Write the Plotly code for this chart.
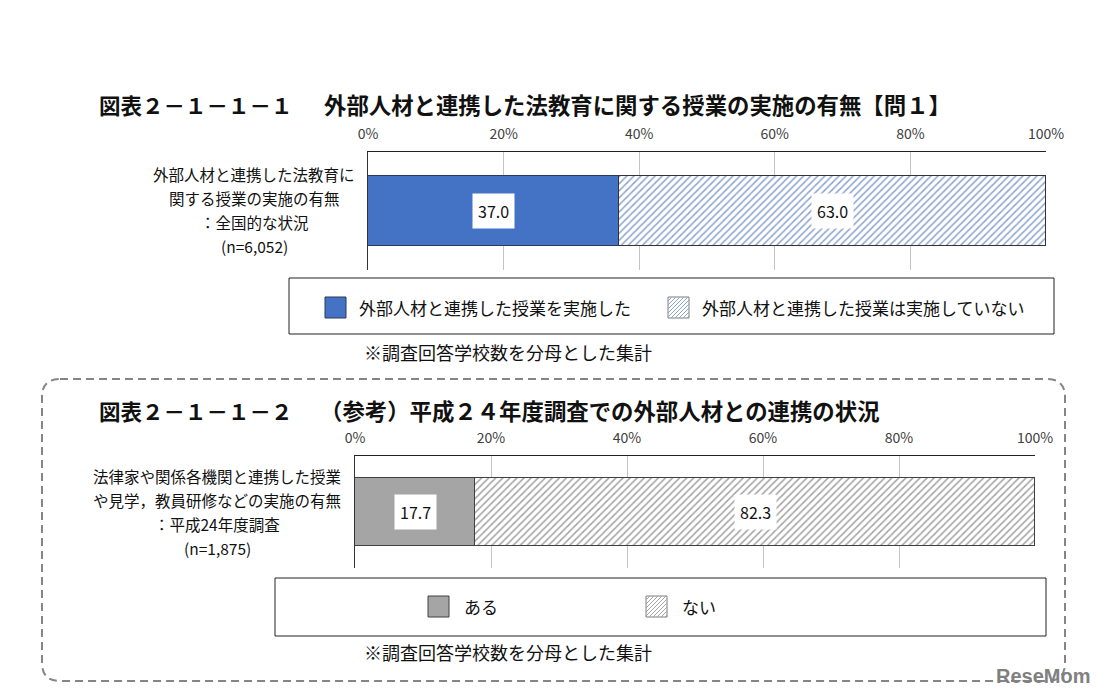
import plotly.graph_objects as go

# page is 1106x700; body has 8px default margin, so the figure fills the rest
PAGE_W, PAGE_H, OFF = 1106, 700, 8
W, H = PAGE_W - 2 * OFF, PAGE_H - 2 * OFF

# ---------------- data ----------------
cat1 = ["全国的な状況"]
done1 = [37.0]
notdone1 = [63.0]
cat2 = ["平成24年度調査"]
yes2 = [17.7]
no2 = [82.3]
tick_vals = [0, 20, 40, 60, 80, 100]
tick_text = ["0%", "20%", "40%", "60%", "80%", "100%"]
label1_lines = ["外部人材と連携した法教育に", "関する授業の実施の有無", "：全国的な状況", "(n=6,052)"]
label2_lines = ["法律家や関係各機関と連携した授業", "や見学，教員研修などの実施の有無", "：平成24年度調査", "(n=1,875)"]
legend1 = ["外部人材と連携した授業を実施した", "外部人材と連携した授業は実施していない"]
legend2 = ["ある", "ない"]
title1a = "図表２－１－１－１"
title1b = "外部人材と連携した法教育に関する授業の実施の有無【問１】"
title2a = "図表２－１－１－２"
title2b = "（参考）平成２４年度調査での外部人材との連携の状況"
note = "※調査回答学校数を分母とした集計"

FONT = "Noto Sans CJK JP"
BLUE = "#4472C4"
GRAY = "#A5A5A5"
HATCH1 = "#8FA5CE"
HATCH2 = "#A3A3A3"


def px(x):
    return (x - OFF) / W


def py(y):
    return 1 - (y - OFF) / H


fig = go.Figure()

# chart 1 bars
fig.add_trace(go.Bar(y=cat1, x=done1, orientation="h", width=0.6, name=legend1[0],
                     marker=dict(color=BLUE, line=dict(color="#2B3A57", width=1)),
                     xaxis="x", yaxis="y", showlegend=False))
fig.add_trace(go.Bar(y=cat1, x=notdone1, orientation="h", width=0.6, name=legend1[1],
                     marker=dict(color="white", line=dict(color="#333333", width=1),
                                 pattern=dict(shape="/", fgcolor=HATCH1, bgcolor="white",
                                              size=5, solidity=0.3)),
                     xaxis="x", yaxis="y", showlegend=False))
# chart 2 bars
fig.add_trace(go.Bar(y=cat2, x=yes2, orientation="h", width=0.6, name=legend2[0],
                     marker=dict(color=GRAY, line=dict(color="#404040", width=1)),
                     xaxis="x2", yaxis="y2", showlegend=False))
fig.add_trace(go.Bar(y=cat2, x=no2, orientation="h", width=0.6, name=legend2[1],
                     marker=dict(color="white", line=dict(color="#404040", width=1),
                                 pattern=dict(shape="/", fgcolor=HATCH2, bgcolor="white",
                                              size=5, solidity=0.3)),
                     xaxis="x2", yaxis="y2", showlegend=False))

annotations = []
shapes = []

# data labels
for cat, vals, xr, yr in [(cat1, [done1[0], notdone1[0]], "x", "y"),
                          (cat2, [yes2[0], no2[0]], "x2", "y2")]:
    base = 0
    for v in vals:
        annotations.append(dict(x=base + v / 2, y=cat[0], xref=xr, yref=yr, text=f"{v:.1f}",
                                showarrow=False, bgcolor="white", borderpad=5,
                                font=dict(family=FONT, size=16, color="#111111")))
        base += v

# category labels (one annotation per line)
for i, line in enumerate(label1_lines):
    annotations.append(dict(x=px(254), y=py(174 + 24 * i), xref="paper", yref="paper",
                            text=line, showarrow=False, xanchor="center", yanchor="middle",
                            font=dict(family=FONT, size=15.5, color="#111111")))
for i, line in enumerate(label2_lines):
    annotations.append(dict(x=px(217), y=py(476 + 24 * i), xref="paper", yref="paper",
                            text=line, showarrow=False, xanchor="center", yanchor="middle",
                            font=dict(family=FONT, size=15.5, color="#111111")))

# titles
for txt, x, y, sz in [(title1a, 97, 104, 21.5), (title1b, 322, 104, 22.4),
                      (title2a, 97, 410, 21.5), (title2b, 318, 410, 22.4)]:
    annotations.append(dict(x=px(x), y=py(y), xref="paper", yref="paper", text=f"<b>{txt}</b>",
                            showarrow=False, xanchor="left", yanchor="middle",
                            font=dict(family=FONT, size=sz, color="#111111")))

# footnotes
for y in [352, 652]:
    annotations.append(dict(x=px(362), y=py(y), xref="paper", yref="paper", text=note,
                            showarrow=False, xanchor="left", yanchor="middle",
                            font=dict(family=FONT, size=18, color="#111111")))

# legend boxes
shapes.append(dict(type="rect", xref="paper", yref="paper", x0=px(289), x1=px(1054),
                   y0=py(278), y1=py(334), line=dict(color="#222222", width=1)))
shapes.append(dict(type="rect", xref="paper", yref="paper", x0=px(275), x1=px(1046),
                   y0=py(578), y1=py(636), line=dict(color="#222222", width=1)))


def swatch(x0, y0, s, fill, line_col, hatch=None):
    shapes.append(dict(type="rect", xref="paper", yref="paper", x0=px(x0), x1=px(x0 + s),
                       y0=py(y0 + s), y1=py(y0), fillcolor=fill,
                       line=dict(color=line_col, width=1)))
    if hatch:
        segs = []
        c = -s + 2
        while c < s:
            u0 = max(0, -c)
            u1 = min(s, s - c)
            xa, ya = x0 + u0, y0 + s - (u0 + c)
            xb, yb = x0 + u1, y0 + s - (u1 + c)
            segs.append(f"M{px(xa):.5f},{py(ya):.5f} L{px(xb):.5f},{py(yb):.5f}")
            c += 4
        shapes.append(dict(type="path", xref="paper", yref="paper", path=" ".join(segs),
                           line=dict(color=hatch, width=1)))


swatch(325, 297, 21, BLUE, "#2B3A57")
swatch(668, 297, 21, "white", "#7F7F7F", hatch=HATCH1)
swatch(428, 596, 21, GRAY, "#404040")
swatch(646, 596, 21, "white", "#7F7F7F", hatch=HATCH2)

for txt, x, y in [(legend1[0], 357, 307), (legend1[1], 700, 307), (legend2[0], 462, 606),
                  (legend2[1], 680, 606)]:
    annotations.append(dict(x=px(x), y=py(y), xref="paper", yref="paper", text=txt,
                            showarrow=False, xanchor="left", yanchor="middle",
                            font=dict(family=FONT, size=17, color="#111111")))

# dashed rounded frame
x0, y0, x1, y1, r = 42, 379, 1065, 681, 18
path = (f"M{px(x0 + r)},{py(y0)} L{px(x1 - r)},{py(y0)} Q{px(x1)},{py(y0)} {px(x1)},{py(y0 + r)} "
        f"L{px(x1)},{py(y1 - r)} Q{px(x1)},{py(y1)} {px(x1 - r)},{py(y1)} "
        f"L{px(x0 + r)},{py(y1)} Q{px(x0)},{py(y1)} {px(x0)},{py(y1 - r)} "
        f"L{px(x0)},{py(y0 + r)} Q{px(x0)},{py(y0)} {px(x0 + r)},{py(y0)} Z")
shapes.append(dict(type="path", xref="paper", yref="paper", path=path,
                   line=dict(color="#858585", width=2, dash="8px,5px")))

# watermark
annotations.append(dict(x=px(1092), y=py(676), xref="paper", yref="paper", text="<b>ReseMom</b>",
                        showarrow=False, xanchor="right", yanchor="middle",
                        font=dict(family="Liberation Sans", size=20, color="#808080")))

xaxis_common = dict(range=[0, 100], side="top", tickmode="array", tickvals=tick_vals,
                    ticktext=tick_text, showgrid=True, gridcolor="#C4C4C4", gridwidth=1,
                    showline=True, linecolor="#222222", linewidth=1, zeroline=False,
                    ticks="", ticklabelstandoff=6, fixedrange=True, automargin=False,
                    tickfont=dict(family=FONT, size=14, color="#404040"))
yaxis_common = dict(range=[-0.5, 0.5], showticklabels=False, showline=True,
                    linecolor="#333333", linewidth=1, showgrid=False, zeroline=False,
                    ticks="", fixedrange=True, automargin=False)

fig.update_layout(
    template="none",
    width=W, height=H, margin=dict(l=0, r=0, t=0, b=0, pad=0, autoexpand=False),
    paper_bgcolor="white", plot_bgcolor="white", barmode="stack", bargap=0,
    xaxis=dict(domain=[px(368), px(1046)], anchor="y", **xaxis_common),
    yaxis=dict(domain=[py(270), py(152)], anchor="x", **yaxis_common),
    xaxis2=dict(domain=[px(355), px(1035)], anchor="y2", **xaxis_common),
    yaxis2=dict(domain=[py(568), py(456)], anchor="x2", **yaxis_common),
    annotations=annotations, shapes=shapes, showlegend=False,
    font=dict(family=FONT),
)

fig.write_html("out.html")
